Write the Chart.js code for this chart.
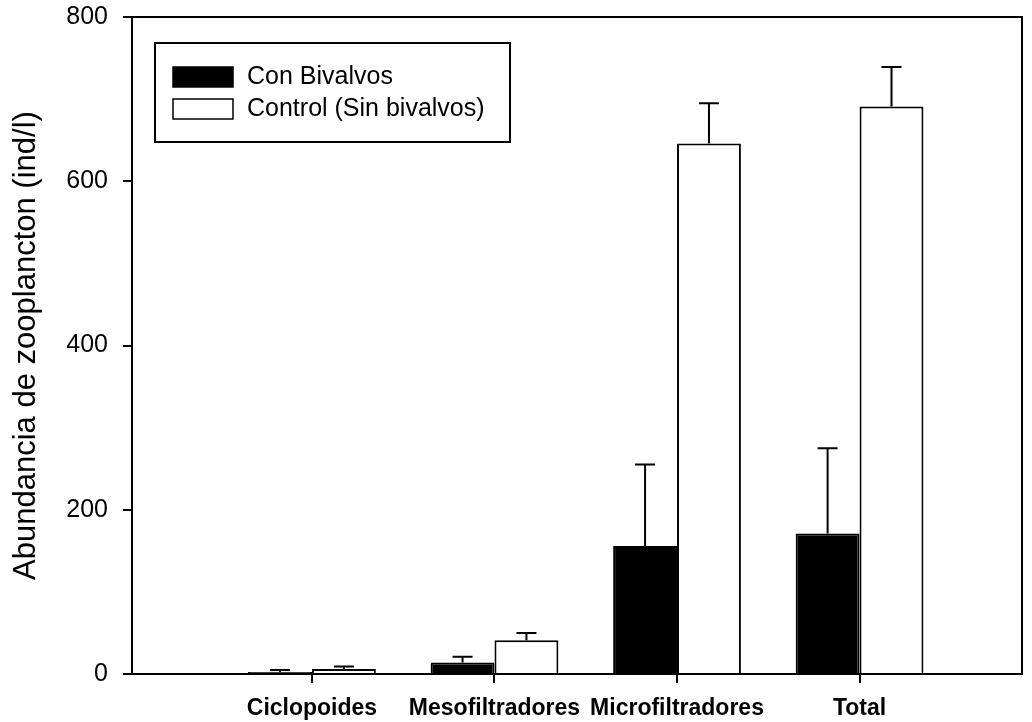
<!DOCTYPE html>
<html>
<head>
<meta charset="utf-8">
<script src="https://cdn.jsdelivr.net/npm/chart.js@4/dist/chart.umd.min.js"></script>
<style>
  body { margin: 0; background: #fff; }
</style>
</head>
<body>
<canvas id="chart" width="1032" height="722"></canvas>
<script>
const categories = ['Ciclopoides', 'Mesofiltradores', 'Microfiltradores', 'Total'];
const conBivalvos = [2.5, 14, 156, 171];
const conBivalvosErr = [2.5, 7, 99, 104];
const control = [6, 41, 646, 691];
const controlErr = [3, 9, 49, 48];
const yTicks = [0, 200, 400, 600, 800];

const FONT = 'Liberation Sans, Arial, sans-serif';

// Upward-only error bars with a short cap.
const errorBars = {
  id: 'errorBars',
  afterDatasetsDraw(chart) {
    const ctx = chart.ctx;
    const y = chart.scales.y;
    ctx.save();
    ctx.strokeStyle = '#000';
    ctx.lineWidth = 2;
    chart.data.datasets.forEach((ds, di) => {
      const meta = chart.getDatasetMeta(di);
      meta.data.forEach((bar, i) => {
        const top = y.getPixelForValue(ds.data[i].y + ds.errors[i]);
        ctx.beginPath();
        ctx.moveTo(bar.x, bar.y);
        ctx.lineTo(bar.x, top);
        ctx.moveTo(bar.x - 10, top);
        ctx.lineTo(bar.x + 10, top);
        ctx.stroke();
      });
    });
    ctx.restore();
  }
};

// Closed frame round the plot area plus the boxed legend inside it.
const frameAndLegend = {
  id: 'frameAndLegend',
  afterDraw(chart) {
    const ctx = chart.ctx;
    const a = chart.chartArea;
    ctx.save();
    ctx.strokeStyle = '#000';
    ctx.lineWidth = 2;
    ctx.strokeRect(a.left, a.top, a.right - a.left, a.bottom - a.top);

    const bx = a.left + 23, by = a.top + 26;
    ctx.strokeRect(bx, by, 355, 99);
    ctx.font = '25px ' + FONT;
    ctx.textBaseline = 'middle';
    ctx.textAlign = 'left';
    chart.data.datasets.forEach((ds, i) => {
      const sy = by + 24 + i * 32;
      ctx.fillStyle = ds.backgroundColor;
      ctx.fillRect(bx + 18, sy, 60, 20);
      ctx.lineWidth = 1.5;
      ctx.strokeRect(bx + 18, sy, 60, 20);
      ctx.fillStyle = '#000';
      ctx.fillText(ds.label, bx + 92, sy + 10);
    });
    ctx.restore();
  }
};

const toPoints = vals => vals.map((v, i) => ({ x: i, y: v }));

new Chart(document.getElementById('chart'), {
  type: 'bar',
  data: {
    datasets: [
      {
        label: 'Con Bivalvos',
        data: toPoints(conBivalvos),
        errors: conBivalvosErr,
        backgroundColor: '#000',
        borderColor: '#000',
        borderWidth: 2
      },
      {
        label: 'Control (Sin bivalvos)',
        data: toPoints(control),
        errors: controlErr,
        backgroundColor: '#fff',
        borderColor: '#000',
        borderWidth: 2
      }
    ]
  },
  options: {
    responsive: false,
    animation: false,
    devicePixelRatio: 1,
    categoryPercentage: 0.7,
    barPercentage: 1.0,
    layout: { padding: { top: 17, right: 10, left: 0, bottom: 0 } },
    plugins: { legend: { display: false }, tooltip: { enabled: false } },
    scales: {
      x: {
        type: 'linear',
        min: -0.986,
        max: 3.89,
        offset: false,
        afterBuildTicks: s => { s.ticks = categories.map((c, i) => ({ value: i })); },
        afterFit: s => { s.height = 48; s.paddingLeft = 0; s.paddingRight = 0; },
        ticks: {
          autoSkip: false,
          maxRotation: 0,
          padding: 12,
          color: '#000',
          font: { family: FONT, size: 23, weight: 'bold' },
          callback: v => categories[v]
        },
        grid: { offset: false, drawOnChartArea: false, tickLength: 9, color: '#000', lineWidth: 2 },
        border: { color: '#000', width: 2 }
      },
      y: {
        min: 0,
        max: 800,
        afterBuildTicks: s => { s.ticks = yTicks.map(v => ({ value: v })); },
        afterFit: s => { s.width = 132; s.paddingTop = 0; s.paddingBottom = 0; },
        ticks: {
          padding: 15,
          color: '#000',
          font: { family: FONT, size: 25 }
        },
        grid: { drawOnChartArea: false, tickLength: 9, color: '#000', lineWidth: 2 },
        border: { color: '#000', width: 2 },
        title: {
          display: true,
          text: 'Abundancia de zooplancton (ind/l)',
          color: '#000',
          padding: { top: 8, bottom: 0 },
          font: { family: FONT, size: 31 }
        }
      }
    }
  },
  plugins: [errorBars, frameAndLegend]
});
</script>
</body>
</html>
